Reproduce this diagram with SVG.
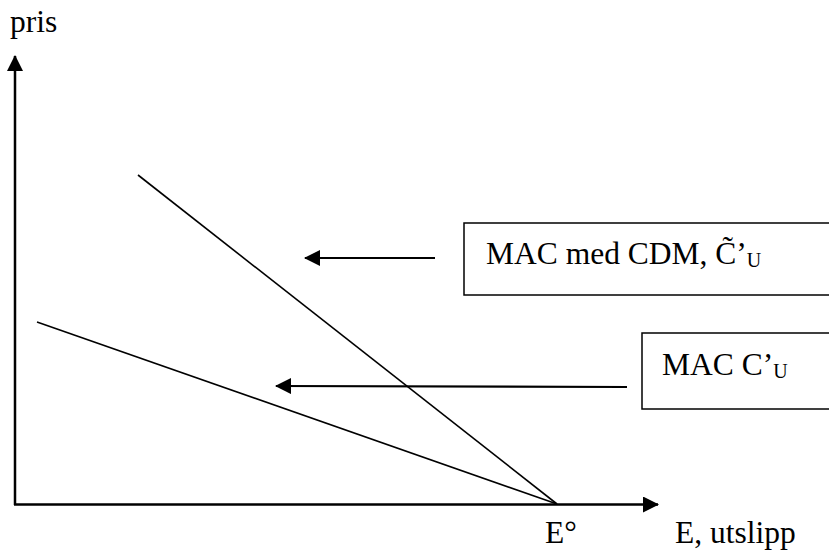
<svg xmlns="http://www.w3.org/2000/svg" width="829" height="557" viewBox="0 0 829 557">
<defs>
<style>
text{font-family:"Liberation Serif","Times New Roman",serif;font-size:31.5px;fill:#000}
.sub{font-size:20px}
.box{fill:#fff;stroke:#000;stroke-width:1.5}
.axis{stroke:#000;stroke-width:2.5;fill:none}
.curve{stroke:#000;stroke-width:1.6;fill:none}
.arr{stroke:#000;stroke-width:2.2;fill:none}
</style>
<marker id="ah" viewBox="0 0 16 16" refX="15" refY="8" markerWidth="16" markerHeight="16" markerUnits="userSpaceOnUse" orient="auto">
<path d="M0,0 L16,8 L0,16 z" fill="#000"/>
</marker>
</defs>
<g id="connectors">
<line class="axis" x1="15" y1="505" x2="15" y2="56" marker-end="url(#ah)"/>
<line class="axis" x1="14" y1="504.5" x2="658" y2="504.5" marker-end="url(#ah)"/>
<line class="curve" x1="138" y1="175" x2="557" y2="504"/>
<line class="curve" x1="37" y1="322" x2="557" y2="504"/>
<line class="arr" x1="435" y1="258" x2="305" y2="258" marker-end="url(#ah)"/>
<line class="arr" x1="627" y1="387" x2="276" y2="386" marker-end="url(#ah)"/>
</g>
<g id="label-pris"><text x="10" y="32">pris</text></g>
<g id="label-e0"><text x="545" y="543">E°</text></g>
<g id="label-e"><text x="675" y="543">E, utslipp</text></g>
<g id="box-cdm">
<rect class="box" x="464" y="223" width="366" height="72"/>
<text x="486" y="264">MAC med CDM, C̃’<tspan class="sub" dy="3">U</tspan></text>
</g>
<g id="box-mac">
<rect class="box" x="642" y="333" width="188" height="76"/>
<text x="662" y="375">MAC C’<tspan class="sub" dy="3">U</tspan></text>
</g>
</svg>
